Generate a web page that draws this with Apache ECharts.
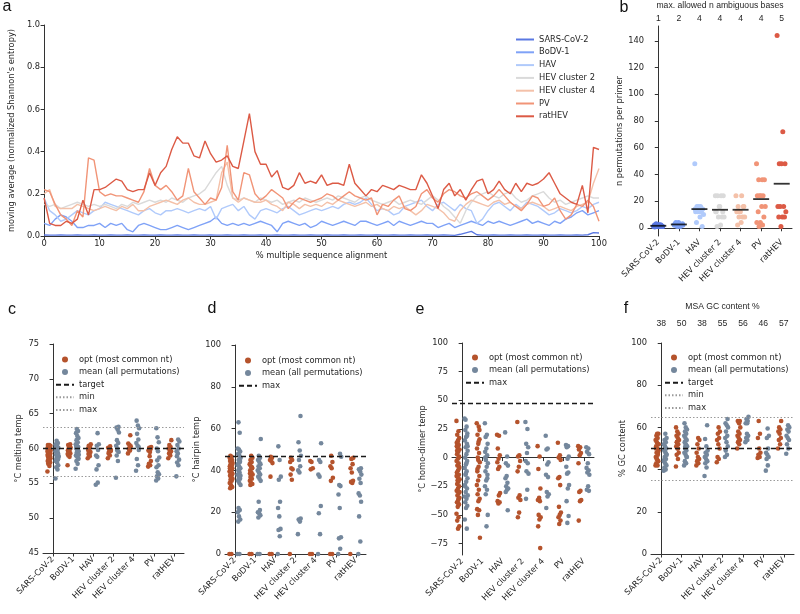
<!DOCTYPE html>
<html>
<head>
<meta charset="utf-8">
<script src="https://cdn.jsdelivr.net/npm/echarts@6/dist/echarts.min.js"></script>
<style>
html, body { margin: 0; padding: 0; background: #fff; }
#chart { width: 800px; height: 614px; }
</style>
</head>
<body>
<div id="chart"></div>
<script>
// ---- shared categories ----
const viruses = ['SARS-CoV-2', 'BoDV-1', 'HAV', 'HEV cluster 2', 'HEV cluster 4', 'PV', 'ratHEV'];
const virusColors = ['#5a78e2', '#7fa2f7', '#b0cafb', '#dadada', '#f4c1a9', '#f19477', '#dc5a45'];

// ---- a: moving average of normalized Shannon entropy, one value per % of the MSA (0..100) ----
const entropySarsCov2 = [0.005,0.004,0.004,0.005,0.004,0.004,0.005,0.004,0.004,0.005,0.004,0.004,0.005,0.004,0.004,0.005,0.004,0.004,0.005,0.004,0.004,0.005,0.004,0.004,0.005,0.004,0.004,0.005,0.004,0.004,0.005,0.004,0.004,0.005,0.004,0.004,0.005,0.004,0.004,0.005,0.004,0.004,0.005,0.004,0.004,0.005,0.004,0.004,0.005,0.004,0.004,0.005,0.004,0.004,0.005,0.004,0.004,0.005,0.004,0.004,0.005,0.004,0.004,0.005,0.004,0.004,0.005,0.004,0.004,0.005,0.004,0.004,0.005,0.004,0.003,0.008,0.015,0.022,0.006,0.004,0.004,0.005,0.004,0.004,0.005,0.004,0.004,0.005,0.004,0.004,0.005,0.004,0.004,0.005,0.004,0.004,0.005,0.004,0.006,0.016,0.014];
const entropyBodv1 = [0.06,0.05,0.08,0.10,0.09,0.07,0.04,0.04,0.05,0.05,0.06,0.04,0.06,0.05,0.06,0.03,0.02,0.05,0.06,0.05,0.04,0.03,0.03,0.04,0.05,0.04,0.03,0.04,0.05,0.06,0.07,0.09,0.06,0.05,0.06,0.05,0.06,0.05,0.06,0.07,0.06,0.05,0.02,0.06,0.07,0.06,0.05,0.06,0.04,0.05,0.07,0.06,0.05,0.06,0.07,0.06,0.05,0.07,0.07,0.06,0.05,0.06,0.07,0.05,0.07,0.06,0.05,0.06,0.07,0.06,0.06,0.04,0.05,0.06,0.04,0.05,0.06,0.07,0.06,0.05,0.07,0.06,0.07,0.06,0.05,0.06,0.07,0.08,0.06,0.07,0.06,0.05,0.07,0.06,0.08,0.09,0.11,0.12,0.10,0.11,0.12];
const entropyHav = [0.18,0.12,0.10,0.07,0.08,0.10,0.12,0.11,0.10,0.12,0.13,0.16,0.15,0.14,0.13,0.12,0.11,0.10,0.12,0.13,0.11,0.10,0.12,0.12,0.13,0.12,0.11,0.12,0.13,0.12,0.14,0.08,0.13,0.14,0.15,0.12,0.14,0.10,0.08,0.12,0.13,0.12,0.11,0.13,0.14,0.12,0.10,0.11,0.12,0.13,0.12,0.13,0.14,0.13,0.15,0.16,0.15,0.16,0.18,0.15,0.12,0.13,0.12,0.10,0.11,0.14,0.15,0.16,0.17,0.14,0.12,0.15,0.16,0.14,0.12,0.15,0.13,0.12,0.06,0.08,0.12,0.15,0.16,0.14,0.12,0.15,0.13,0.16,0.15,0.14,0.12,0.10,0.11,0.13,0.12,0.11,0.12,0.14,0.13,0.15,0.16];
const entropyHev2 = [0.15,0.14,0.15,0.13,0.14,0.15,0.16,0.15,0.14,0.15,0.14,0.15,0.14,0.13,0.15,0.14,0.16,0.15,0.16,0.17,0.16,0.17,0.16,0.18,0.17,0.16,0.18,0.19,0.20,0.22,0.26,0.30,0.33,0.24,0.18,0.17,0.18,0.17,0.16,0.18,0.17,0.16,0.17,0.15,0.16,0.17,0.16,0.18,0.17,0.16,0.17,0.18,0.17,0.19,0.18,0.17,0.16,0.18,0.19,0.17,0.16,0.15,0.16,0.17,0.15,0.16,0.17,0.16,0.15,0.17,0.19,0.17,0.14,0.12,0.09,0.06,0.12,0.16,0.19,0.20,0.21,0.19,0.18,0.20,0.21,0.18,0.16,0.17,0.19,0.20,0.21,0.18,0.16,0.17,0.15,0.16,0.17,0.18,0.19,0.18,0.18];
const entropyHev4 = [0.20,0.22,0.14,0.13,0.13,0.13,0.15,0.14,0.13,0.12,0.13,0.14,0.13,0.12,0.14,0.13,0.15,0.12,0.12,0.14,0.15,0.16,0.17,0.16,0.15,0.17,0.18,0.16,0.15,0.15,0.16,0.17,0.30,0.35,0.18,0.16,0.18,0.17,0.16,0.16,0.17,0.15,0.14,0.12,0.16,0.15,0.13,0.15,0.14,0.15,0.14,0.16,0.15,0.17,0.16,0.15,0.14,0.15,0.16,0.14,0.15,0.13,0.12,0.14,0.13,0.14,0.12,0.10,0.12,0.15,0.14,0.13,0.11,0.08,0.07,0.12,0.15,0.17,0.16,0.15,0.14,0.16,0.17,0.15,0.16,0.14,0.13,0.15,0.16,0.15,0.14,0.12,0.13,0.14,0.13,0.12,0.14,0.15,0.16,0.25,0.32];
const entropyPv = [0.22,0.21,0.15,0.10,0.08,0.05,0.12,0.09,0.37,0.36,0.21,0.19,0.20,0.19,0.19,0.18,0.17,0.16,0.21,0.32,0.24,0.22,0.24,0.21,0.17,0.19,0.32,0.21,0.18,0.15,0.18,0.17,0.23,0.43,0.21,0.17,0.30,0.29,0.20,0.17,0.19,0.22,0.20,0.18,0.13,0.16,0.18,0.17,0.16,0.17,0.18,0.20,0.19,0.17,0.19,0.21,0.19,0.18,0.17,0.18,0.10,0.15,0.14,0.17,0.19,0.13,0.12,0.14,0.20,0.22,0.18,0.16,0.20,0.22,0.21,0.19,0.18,0.20,0.21,0.19,0.17,0.19,0.22,0.19,0.16,0.14,0.12,0.15,0.19,0.18,0.14,0.15,0.18,0.12,0.08,0.10,0.15,0.14,0.17,0.14,0.07];
const entropyRatHev = [0.18,0.06,0.05,0.05,0.07,0.06,0.08,0.17,0.10,0.22,0.22,0.23,0.25,0.27,0.26,0.22,0.21,0.22,0.22,0.30,0.24,0.30,0.33,0.41,0.47,0.44,0.44,0.38,0.37,0.45,0.39,0.35,0.36,0.38,0.33,0.32,0.45,0.58,0.40,0.34,0.34,0.28,0.31,0.23,0.22,0.24,0.30,0.25,0.26,0.25,0.29,0.24,0.25,0.25,0.24,0.34,0.25,0.22,0.19,0.22,0.21,0.24,0.23,0.22,0.24,0.23,0.22,0.22,0.29,0.25,0.19,0.13,0.22,0.25,0.19,0.22,0.17,0.22,0.26,0.27,0.20,0.22,0.26,0.22,0.20,0.25,0.21,0.25,0.24,0.25,0.27,0.30,0.25,0.20,0.18,0.16,0.15,0.24,0.11,0.42,0.41];
const entropyLines = [entropySarsCov2, entropyBodv1, entropyHav, entropyHev2, entropyHev4, entropyPv, entropyRatHev];
const entropyTicksX = [0, 10, 20, 30, 40, 50, 60, 70, 80, 90, 100];

// ---- b: permutations per primer ----
const permPerPrimer = [
  [1,1,1,1,2,2,2,1,1,2,1,2,1,1,2,3,1,2,0.5,1.5,2,1],
  [2,2,3,2,4,3,2,1,2,3,4,2,3,2,1,2,3],
  [48,16,16,14,14,12,12,12,10,8,4,1,16,14,12],
  [24,24,24,24,16,12,8,8,8,2,1,12,16,12],
  [24,24,16,16,12,12,8,8,8,4,2,16,12],
  [48,36,36,36,24,24,24,24,16,16,12,8,4,4,2,1],
  [144,72,48,48,48,16,16,16,12,8,8,8,1]
];
const permMean = [1.5, 2.5, 14, 13.5, 13.5, 21.5, 33];
const maxAmbiguous = ['1', '2', '4', '4', '4', '4', '5'];
const permTicks = [0, 20, 40, 60, 80, 100, 120, 140];

// ---- c: melting temp ----
const meltOpt = [
  [56.7,57.5,57.8,58,58.1,58.2,58.4,58.5,58.6,58.7,58.8,58.9,59,59.05,59.1,59.2,59.3,59.4,59.5,59.55,59.6,59.7,59.8,59.9,60,60.05,60.1,60.2,60.3,60.4,60.5,60.5,59.25,58.3,59.65,60.2],
  [57.6,58.8,59,59.3,59.5,59.7,59.9,60,60.1,60.3,60.5,60.6,59.6,59.2,60.2],
  [58.6,58.9,59.2,59.5,59.8,60,60.2,60.4,60.6,59.1,59.7],
  [58.6,59,59.3,59.6,59.9,60.1,60.3,59.5,59.8],
  [59.3,59.7,60,60.3,60.5,60.7,61.9,59.9],
  [57.4,57.6,57.8,58.2,58.9,59.7,59.9,60.1,60.2,59.5],
  [58.6,59,59.3,59.6,59.8,60,60.2,60.5,61.2,59.4]
];
const meltMean = [
  [55.7,57,57.3,57.6,58,58.2,58.4,58.6,58.8,59,59.1,59.3,59.5,59.6,59.8,60,60.1,60.3,60.5,60.8,61.1,58.9,59.4,60.2,58.5,59.9,60.6,59.2],
  [57.1,57.8,58.2,58.5,58.8,59,59.2,59.4,59.6,59.8,60,60.2,60.4,60.6,60.9,61.2,61.5,61.8,62.2,62.5,62.8,59.1,59.7,60.3,58.6],
  [54.8,55.1,57,57.6,58.8,59,59.8,60.4,60.6,62.2],
  [55.8,58.2,59,59.5,60,60.4,60.8,61.2,62.3,62.7,63,63.1,59.7],
  [56.8,57.6,58.5,59.8,60.4,60.8,61.3,62.1,62.9,63.3,64,60.2],
  [55.4,55.7,56,56.3,56.6,57.3,57.6,58.3,58.7,59.6,60,60.9,61.6,62.9],
  [56,57.6,58,58.4,59.3,59.6,60,60.5,61,61.3,58.9]
];
const meltTarget = 60, meltMin = 56, meltMax = 63;

// ---- d: hairpin temp ----
const hairpinOpt = [
  [0,0,31.5,32,33,34,35,35.5,36,37,37.5,38,39,39.5,40,40.5,41,41.5,42,42.5,43,43.5,44,44.5,45,45.5,46,46.5,47,38.5,36.5,41,43,39],
  [0,0,33,33.5,34,35,36,37,38,39,40,41,42,43,44,45,46,47,38.5,41.5,36.5],
  [0,0,37,43.5,44.5,45,46,46.5],
  [0,35.5,38,40.5,41,44,45,46],
  [0,0,40.5,41,44,44.5],
  [0,0,35,36.5,41,42,44,47],
  [0,34,34.5,35,39,41,43,45.5,46]
];
const hairpinMean = [
  [0,0,15.5,16.5,18,20,21,22,33,34,35,36,37,38,39,40,41,42,43,44,45,46,47,48,49,50,50.5,58,63,37.5,40.5,42.5,44.5,36],
  [0,0,17.5,18.5,19.5,20,21,25,35,36,37,38,39,40,41,42,43,44,45,46,47,55],
  [0,8.5,11.5,12,18,22,25,35.5,37,45,51.5],
  [9.5,15.5,16.5,17,39,40,42,45,47,49.5,53.5,66],
  [0,9.5,19.5,23,37,38,44,45,53],
  [0,2.5,7.5,8,22,28.5,32.5,33,46.5,48],
  [0,6,18,25,28,29,34,36,38,39.5,40.5,41]
];
const hairpinMax = 47;

// ---- e: homo-dimer temp ----
const dimerOpt = [
  [32,23,20,17,15,13,11,9,7,5,3,1,-1,-3,-5,-7,-9,-11,-13,-15,-17,-19,-21,-23,-25,-27,-29,-31,-33,-35,-37,-39,-41,-43,-49,-52,-55,-60,-62,10,0,-20,-30,-40,6,-8,14,-16,-36],
  [30,27,20,16,12,8,4,0,-4,-8,-12,-16,-20,-24,-28,-32,-36,-38,-45,-46,-50,-70,14,-10,24,-2],
  [20,19,8,2,-1,-4,-8,-10,-31,-33,-38,-39,-40],
  [31,2,1,-3,-8,-12,-33,-35,-37,-48,-52],
  [10,1,-10,-27,-35,-37,-38,-50,-52,-54,-60,-79],
  [13,2,0,-2,-17,-18,-24,-43,-48,-50,-52,-55,-58],
  [10,9,7,4,2,-5,-29,-30,-37,-38,-55]
];
const dimerMean = [
  [34,27,24,21,18,15,12,9,6,3,0,-3,-6,-9,-12,-15,-18,-21,-24,-27,-30,-33,-36,-39,-42,-44,-54,-62,33,10,-5,-25,19,-14,-34],
  [30,20,18,12,8,5,2,-2,-5,-8,-12,-15,-20,-25,-28,-32,-50,-60,0,-18],
  [22,1,-5,-7,-16,-18,-22,-25,-27,-28,-30,-46],
  [31,25,12,9,4,-3,-5,-12,-14,-28,-36],
  [19,8,7,-4,-6,-15,-17,-30,-32,-34,-44],
  [11,10,9,1,-1,-8,-13,-14,-24,-27,-38,-51,-57],
  [9,8,5,3,-5,-9,-11,-13,-15,-25,-28,-29]
];
const dimerMax = 47;
const dimerTicks = [-75, -50, -25, 0, 25, 50, 75, 100];

// ---- f: GC content ----
const gcOpt = [
  [42,42,43,44,45,46,47,48,49,50,51,52,53,54,55,56,57,57,50,48,45,52],
  [41.5,45,47,48,50,51,52,53,54,55,56,57,58,60,50,53],
  [42,43,44,45,46,48,50,52,54,55],
  [43.5,45,46,50,52,54,55,57,58,60],
  [50,52,53,54,55,56,57,58,60,62,63,63],
  [45.5,46,47,48,50,55,57,63],
  [50,52,54,55,57,58,59,60,63]
];
const gcMean = [
  [39.5,40,41,42,43,44,45,46,47,48,49,50,51,52,53,54,55,57,44.5,47.5,49.5],
  [42,43,44,46,47,48,49,50,51,52,53,54,55,56,57,58,59,60,62,46,51],
  [37,41,43,44,45,46,47,48,49,51,54.5,61],
  [46,47,49,51,53,55,56,58,60,61,62,64],
  [53,54,55,56,57,62,63,64,65,62],
  [39.5,42,45,46,47,48,50,55,56,59.5],
  [47.5,50,52,54,55,56,58,59,60,61]
];
const gcMsa = ['38', '50', '38', '55', '56', '46', '57'];
const gcTarget = 50, gcMin = 35, gcMax = 65;

// ---- styling ----
const FONT = 'DejaVu Sans';
const TXT = '#262626';
const FS = 8.3;
const optColor = '#b5532c';
const meanColor = '#74879c';
const OPT = 'opt (most common nt)';
const MEAN = 'mean (all permutations)';

const axisLine = { show: true, lineStyle: { color: '#333', width: 1 } };
const axisTick = { show: true, inside: false, length: 3.5, lineStyle: { color: '#333', width: 1 } };
const lbl = (extra) => Object.assign({ color: TXT, fontFamily: FONT, fontSize: FS, margin: 4 }, extra || {});
const nameStyle = { color: TXT, fontFamily: FONT, fontSize: FS };

// horizontal spread of a strip column (layout only)
function jitter(i, w) { return ((i * 0.6180339887) % 1 - 0.5) * w; }
function strip(groups, shift, w) {
  const out = [];
  groups.forEach((vals, c) => vals.forEach((v, i) => out.push([c + shift + jitter(i, w), v])));
  return out;
}

const grids = [
  { left: 31, top: 25, width: 568, height: 211 },
  { left: 648, top: 24, width: 144, height: 212 },
  { left: 43, top: 344, width: 141, height: 209 },
  { left: 225, top: 345, width: 141, height: 209 },
  { left: 452, top: 343, width: 142, height: 212 },
  { left: 651, top: 343, width: 143, height: 211 }
];

const xAxes = [];
const yAxes = [];
const series = [];

// a
xAxes.push({
  type: 'value', gridIndex: 0, min: 0, max: 100, interval: 10,
  axisLine, axisTick, splitLine: { show: false },
  axisLabel: lbl({ customValues: entropyTicksX }),
  name: '% multiple sequence alignment', nameLocation: 'middle', nameGap: 16, nameTextStyle: nameStyle
});
yAxes.push({
  type: 'value', gridIndex: 0, min: 0, max: 1, interval: 0.2,
  axisLine, axisTick, splitLine: { show: false },
  axisLabel: lbl({ formatter: v => v.toFixed(1) }),
  name: "moving average (normalized Shannon's entropy)", nameLocation: 'middle', nameGap: 23, nameTextStyle: nameStyle
});
entropyLines.forEach((arr, k) => {
  series.push({
    type: 'line', name: viruses[k], xAxisIndex: 0, yAxisIndex: 0,
    data: arr.map((v, i) => [i, v]),
    showSymbol: false, symbol: 'none',
    lineStyle: { color: virusColors[k], width: 1.4 }, itemStyle: { color: virusColors[k] },
    z: 2 + k
  });
});

// category panels: returns the hidden value axis index used to place points
function catPanel(g) {
  const ci = xAxes.length;
  xAxes.push({
    type: 'category', gridIndex: g, data: viruses, boundaryGap: true,
    axisLine, axisTick: Object.assign({ alignWithLabel: true }, axisTick),
    axisLabel: lbl({ rotate: 45, interval: 0, margin: 5 })
  });
  xAxes.push({ type: 'value', gridIndex: g, min: -0.5, max: 6.5, show: false });
  return ci + 1;
}

// b
const bx = catPanel(1);
xAxes.push({
  type: 'category', gridIndex: 1, position: 'top', data: viruses,
  axisLine: { show: false }, axisTick: { show: false },
  axisLabel: { color: TXT, fontFamily: 'Liberation Sans', fontSize: 8.6, margin: 3, interval: 0, formatter: (v, i) => maxAmbiguous[i] },
  name: 'max. allowed n ambiguous bases', nameLocation: 'middle', nameGap: 16,
  nameTextStyle: { color: TXT, fontFamily: 'Liberation Sans', fontSize: 8.6 }
});
yAxes.push({
  type: 'value', gridIndex: 1, min: -6.15, max: 151.15,
  axisLine, axisTick: Object.assign({ customValues: permTicks }, axisTick), splitLine: { show: false },
  axisLabel: lbl({ customValues: permTicks }),
  name: 'n permutations per primer', nameLocation: 'middle', nameGap: 22, nameTextStyle: nameStyle
});
permPerPrimer.forEach((vals, c) => {
  series.push({
    type: 'scatter', name: 'b ' + viruses[c], xAxisIndex: bx, yAxisIndex: 1,
    data: vals.map((v, i) => [c + jitter(i, 0.45), v]),
    symbolSize: 5, itemStyle: { color: virusColors[c], opacity: 1 }, z: 2
  });
});
series.push({
  type: 'scatter', name: 'b mean', xAxisIndex: bx, yAxisIndex: 1,
  data: permMean.map((m, c) => [c, m]),
  symbol: 'rect', symbolSize: [16, 1.8], itemStyle: { color: '#000' }, z: 5
});

// reference-line series (legend entry + markLine)
function refLine(name, xi, yi, value, style) {
  return {
    type: 'line', name, xAxisIndex: xi, yAxisIndex: yi, data: [],
    symbol: 'none', lineStyle: style, itemStyle: { color: style.color },
    markLine: { silent: true, symbol: 'none', label: { show: false }, lineStyle: style, data: [{ yAxis: value }], animation: false },
    z: 4
  };
}
const dashed = { color: '#1a1a1a', width: 1.3, type: [5, 3] };
const dotted = { color: '#9a9a9a', width: 1, type: [1.5, 2] };

function stripPanel(g, yi, optGroups, meanGroups, refs) {
  const xi = catPanel(g);
  series.push({
    type: 'scatter', name: OPT, xAxisIndex: xi, yAxisIndex: yi,
    data: strip(optGroups, -0.2, 0.16), symbolSize: 4.6, itemStyle: { color: optColor, opacity: 1 }, z: 2
  });
  series.push({
    type: 'scatter', name: MEAN, xAxisIndex: xi, yAxisIndex: yi,
    data: strip(meanGroups, 0.2, 0.16), symbolSize: 4.6, itemStyle: { color: meanColor, opacity: 1 }, z: 2
  });
  refs.forEach(r => series.push(refLine(r[0], xi, yi, r[1], r[2])));
  return xi;
}

// c
yAxes.push({
  type: 'value', gridIndex: 2, min: 45, max: 75, interval: 5,
  axisLine, axisTick, splitLine: { show: false }, axisLabel: lbl(),
  name: '°C melting temp', nameLocation: 'middle', nameGap: 20, nameTextStyle: nameStyle
});
stripPanel(2, 2, meltOpt, meltMean, [['target', meltTarget, dashed], ['min', meltMin, dotted], ['max', meltMax, dotted]]);

// d
yAxes.push({
  type: 'value', gridIndex: 3, min: 0, max: 100, interval: 20,
  axisLine, axisTick, splitLine: { show: false }, axisLabel: lbl(),
  name: '°C hairpin temp', nameLocation: 'middle', nameGap: 22, nameTextStyle: nameStyle
});
stripPanel(3, 3, hairpinOpt, hairpinMean, [['max ', hairpinMax, dashed]]);

// e
yAxes.push({
  type: 'value', gridIndex: 4, min: -85, max: 100,
  axisLine, axisTick: Object.assign({ customValues: dimerTicks }, axisTick), splitLine: { show: false },
  axisLabel: lbl({ customValues: dimerTicks, formatter: v => String(v).replace('-', '\u2212') }),
  name: '°C homo-dimer temp', nameLocation: 'middle', nameGap: 25, nameTextStyle: nameStyle
});
stripPanel(4, 4, dimerOpt, dimerMean, [['max ', dimerMax, dashed]]);

// f
yAxes.push({
  type: 'value', gridIndex: 5, min: 0, max: 100, interval: 20,
  axisLine, axisTick, splitLine: { show: false }, axisLabel: lbl(),
  name: '% GC content', nameLocation: 'middle', nameGap: 22, nameTextStyle: nameStyle
});
stripPanel(5, 5, gcOpt, gcMean, [['target', gcTarget, dashed], ['min', gcMin, dotted], ['max', gcMax, dotted]]);
xAxes.push({
  type: 'category', gridIndex: 5, position: 'top', data: viruses,
  axisLine: { show: false }, axisTick: { show: false },
  axisLabel: { color: TXT, fontFamily: 'Liberation Sans', fontSize: 8.6, margin: 15, interval: 0, formatter: (v, i) => gcMsa[i] },
  name: 'MSA GC content %', nameLocation: 'middle', nameGap: 32,
  nameTextStyle: { color: TXT, fontFamily: 'Liberation Sans', fontSize: 8.6 }
});

// legend entries for line series: hide the default marker drawn on the line icon
const lineEntry = n => ({ name: n, itemStyle: { opacity: 0, color: 'rgba(0,0,0,0)', borderWidth: 0 } });
const pointEntry = n => ({ name: n });

function legendAt(left, top, entries) {
  return {
    orient: 'vertical', left, top, data: entries, selectedMode: false,
    itemWidth: 18, itemHeight: 6, itemGap: 1.6,
    textStyle: { color: TXT, fontFamily: FONT, fontSize: FS, lineHeight: 11 }
  };
}
const legends = [
  Object.assign(legendAt(510, 29, viruses.map(lineEntry)), { itemHeight: 8, itemGap: 1.8 }),
  legendAt(50, 349, [pointEntry(OPT), pointEntry(MEAN), lineEntry('target'), lineEntry('min'), lineEntry('max')]),
  legendAt(233, 350, [pointEntry(OPT), pointEntry(MEAN), lineEntry('max ')]),
  legendAt(460, 347, [pointEntry(OPT), pointEntry(MEAN), lineEntry('max ')]),
  legendAt(659, 347, [pointEntry(OPT), pointEntry(MEAN), lineEntry('target'), lineEntry('min'), lineEntry('max')])
];

const letter = (t, x, y) => ({
  type: 'text', x, y,
  style: { text: t, fill: '#111', font: '16px "Liberation Sans"', textAlign: 'center', textVerticalAlign: 'middle' }
});

const option = {
  animation: false,
  backgroundColor: '#fff',
  grid: grids,
  xAxis: xAxes,
  yAxis: yAxes,
  legend: legends,
  series,
  graphic: [
    letter('a', 7, 7), letter('b', 624, 8), letter('c', 12, 310),
    letter('d', 212, 309), letter('e', 420, 310), letter('f', 626, 309)
  ]
};

const chart = echarts.init(document.getElementById('chart'));
chart.setOption(option);
</script>
</body>
</html>
